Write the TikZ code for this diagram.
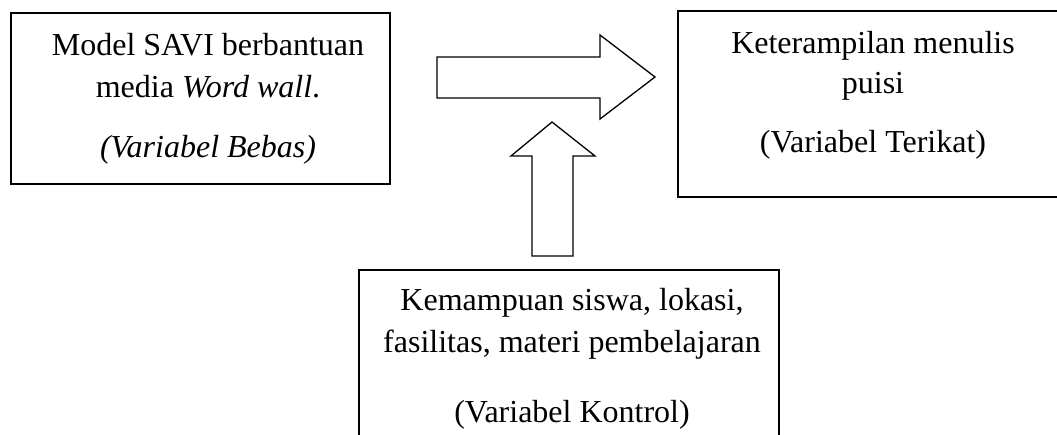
\documentclass[tikz,border=0pt]{standalone}
\usepackage{fontspec}
\setmainfont{Liberation Serif}
\begin{document}
\begin{tikzpicture}[x=1pt,y=-1pt,
  boxstyle/.style={draw, line width=1.6pt, inner sep=0pt},
  txt/.style={anchor=base, inner sep=0pt, font=\fontsize{32}{38}\selectfont},
  blockarrow/.style={draw, line width=1.3pt, line join=miter, fill=white}]
\useasboundingbox (0,0) rectangle (1057,434);
% boxes
\node[boxstyle, minimum width=379pt, minimum height=171pt] (bebas) at (200.5,98.5) {};
\node[boxstyle, minimum width=384pt, minimum height=186pt] (terikat) at (870,104) {};
\node[boxstyle, minimum width=420pt, minimum height=180pt] (kontrol) at (569,360) {};
% texts
\node[txt] (b1) at (208,55) {Model SAVI berbantuan};
\node[txt] (b2) at (208,97) {media \textit{Word wall}.};
\node[txt] (b3) at (208,157) {\textit{(Variabel Bebas)}};
\node[txt] (t1) at (873,53) {Keterampilan menulis};
\node[txt] (t2) at (873,93) {puisi};
\node[txt] (t3) at (873,152) {(Variabel Terikat)};
\node[txt] (k1) at (572,310) {Kemampuan siswa, lokasi,};
\node[txt] (k2) at (572,352) {fasilitas, materi pembelajaran};
\node[txt] (k3) at (572,422) {(Variabel Kontrol)};
% right block arrow
\draw[blockarrow] (437,57) -- (600,57) -- (600,35) -- (655,77) -- (600,119) -- (600,98) -- (437,98) -- cycle;
% up block arrow
\draw[blockarrow] (552,122) -- (595,156) -- (573,156) -- (573,256) -- (532,256) -- (532,156) -- (511,156) -- cycle;
\end{tikzpicture}
\end{document}
